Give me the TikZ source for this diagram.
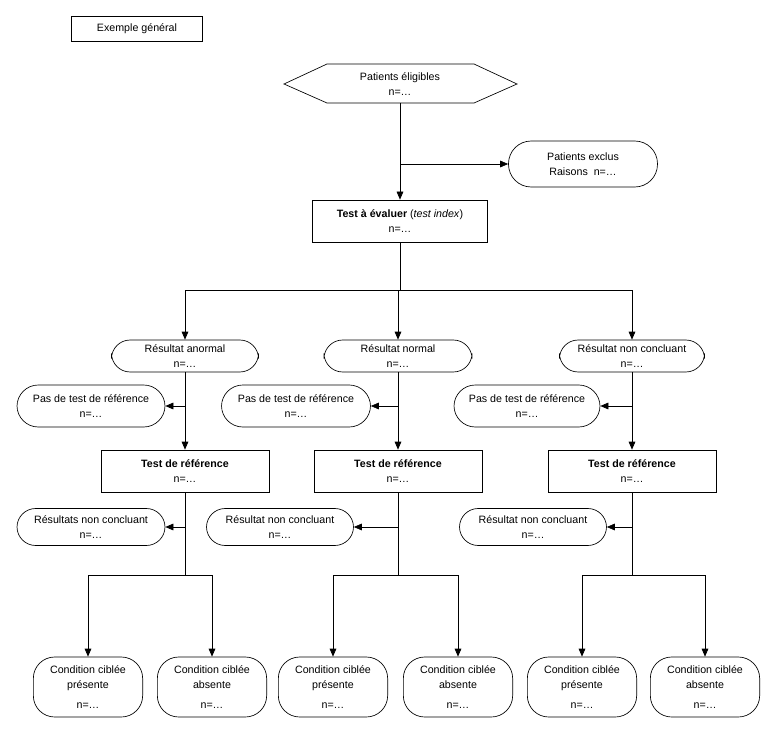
\documentclass[tikz,border=0pt]{standalone}
\usepackage{fontspec}
\setmainfont{Liberation Sans}
\usetikzlibrary{arrows.meta,shapes.geometric}
\begin{document}
\begin{tikzpicture}[x=0.75pt,y=-0.75pt,
  every node/.style={font=\fontsize{8}{11}\selectfont,align=center,inner sep=0pt},
  box/.style={draw,minimum width=#1*0.75pt,minimum height=31.5pt},
  rnd/.style={draw,rounded corners=14pt,minimum width=#1*0.75pt,minimum height=24pt},
  big/.style={draw,rounded corners=16pt,minimum width=82pt,minimum height=45pt},
  arr/.style={-{Triangle[length=6pt,width=5pt]}},
  line width=0.5pt]
\useasboundingbox (0,0) rectangle (775,738);
\node[draw,minimum width=98pt,minimum height=19pt] (ex) at (137,29) {Exemple général};
\node[draw,regular polygon,regular polygon sides=6,shape border rotate=0,minimum size=10pt,inner sep=0pt,draw=none] at (0,0) {};
\draw (284,84) -- (327,64) -- (474,64) -- (517,84) -- (474,103) -- (327,103) -- cycle;
\node (pe) at (400,84) {Patients éligibles\\n=\dots};
\coordinate (pebot) at (400,103);
\node[rnd=149,minimum height=34.5pt,rounded corners=17pt] (exc) at (583,164) {Patients exclus\\Raisons\ \ n=\dots};
\node[box=175] (ti) at (400,221) {\textbf{Test à évaluer} (\textit{test index})\\n=\dots};
\coordinate (j1) at (400,164);
\draw[arr] (pebot) -- (ti.north);
\draw[arr] (j1) -- (exc.west);
\coordinate (h) at (400,290);
\draw (ti.south) -- (h);
\foreach \n/\x/\lab/\rw/\px/\pw/\tx/\cx/\cw/\clab/\la/\lb in {
 A/185/Résultat anormal/147/91/148/184/91/148/Résultats non concluant/88/212,
 B/398/Résultat normal/148/296/149/394/280/147/Résultat non concluant/333/458,
 C/632/Résultat non concluant/145/527/146/631/533/147/Résultat non concluant/582/705}{
  \coordinate (t\n) at (\x,290);
  \node[rnd=\rw] (r\n) at (\x,356) {\lab\\n=\dots};
  \node[rnd=\pw,minimum height=31.5pt,rounded corners=16pt] (p\n) at (\px,406) {Pas de test de référence\\n=\dots};
  \node[box=168] (b\n) at (\x,471) {\textbf{Test de référence}\\n=\dots};
  \node[rnd=\cw,minimum height=27.75pt] (c\n) at (\cx,527) {\clab\\n=\dots};
  \coordinate (j\n a) at (\x,406);
  \coordinate (j\n b) at (\x,527);
  \coordinate (s\n) at (\x,575);
  \coordinate (s\n l) at (\la,575);
  \coordinate (s\n r) at (\lb,575);
  \node[big] (d\n l) at (\la,687) {Condition ciblée\\présente\\[4pt]n=\dots};
  \node[big] (d\n r) at (\lb,687) {Condition ciblée\\absente\\[4pt]n=\dots};
  \draw[arr] (t\n) -- (r\n.north);
  \draw[arr] (r\n.south) -- (b\n.north);
  \draw[arr] (j\n a) -- (p\n.east);
  \draw (b\n.south) -- (s\n);
  \draw[arr] (j\n b) -- (c\n.east);
  \draw[arr] (s\n l) -- (d\n l.north);
  \draw[arr] (s\n r) -- (d\n r.north);
  \draw (s\n l) -- (s\n r);
}
\draw (tA) -- (tC);
\end{tikzpicture}
\end{document}
